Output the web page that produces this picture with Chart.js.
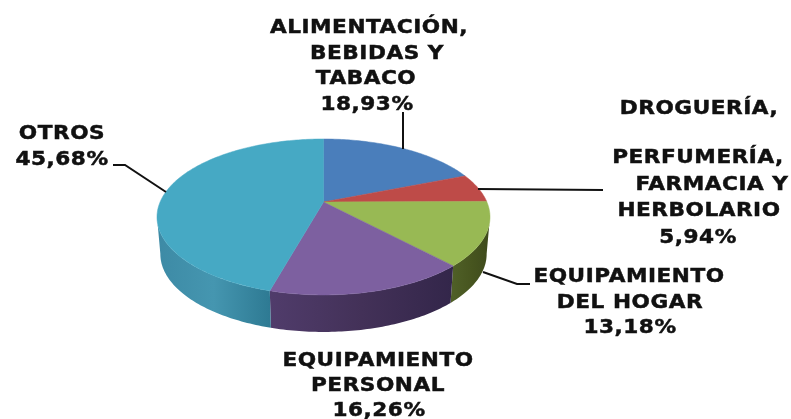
<!DOCTYPE html>
<html lang="es">
<head>
    <meta charset="UTF-8">
    <title>Distribución por sectores</title>
    <script src="https://cdn.jsdelivr.net/npm/chart.js"></script>
    <style>
        body { margin: 0; background: #fff; }
        canvas { display: block; }
    </style>
</head>
<body>
    <canvas id="pie" width="791" height="419"></canvas>

    <script>
        const categories = [
            "ALIMENTACIÓN, BEBIDAS Y TABACO",
            "DROGUERÍA, PERFUMERÍA, FARMACIA Y HERBOLARIO",
            "EQUIPAMIENTO DEL HOGAR",
            "EQUIPAMIENTO PERSONAL",
            "OTROS"
        ];
        const values = [18.93, 5.94, 13.18, 16.26, 45.68];
        const faceColors = ["#4a7ebb", "#be4b48", "#98b954", "#7d60a0", "#46a9c4"];
        const wallColors = [
            ["#3a6494", "#3a6494", "#3a6494"],
            ["#8f3836", "#8f3836", "#8f3836"],
            ["#4f5f27", "#47551f", "#3e4a1c"],
            ["#503c6b", "#433158", "#33264a"],
            ["#3d8aa5", "#4596b0", "#2e7a93"]
        ];

        // text lines of each label, the blank line in the second one is in the original
        const labelLines = [
            ["ALIMENTACIÓN,", "BEBIDAS Y", "TABACO"],
            ["DROGUERÍA,", "", "PERFUMERÍA,", "FARMACIA Y", "HERBOLARIO"],
            ["EQUIPAMIENTO", "DEL HOGAR"],
            ["EQUIPAMIENTO", "PERSONAL"],
            ["OTROS"]
        ];
        // centre x and baseline y of every line, the value line comes last
        const labelLayout = [
            [[369, 33], [377, 59], [366, 84], [367, 110]],
            [[699, 114], [699, 138], [698, 163], [712, 190], [699, 216], [698, 243]],
            [[629, 282], [630, 308], [630, 333]],
            [[378, 366], [378, 391], [379, 416]],
            [[62, 139], [62, 165]]
        ];
        const leaders = [
            [[403, 112], [403, 149]],
            [[478, 189], [603, 190]],
            [[483, 272], [517, 284], [530, 284]],
            [[113, 165], [125, 165], [166, 192]]
        ];

        // the disc is seen in perspective, so the apex is not the middle of the ellipse
        const apexX = 323.5, apexY = 202;
        const spreadX = 163.4, spreadY = 75.1, tilt = 0.192;
        const depth = 37, wallShrink = 0.98;
        const wallFrom = 101 * Math.PI / 180, wallTo = 259 * Math.PI / 180;

        function rim(angle, drop, shrink) {
            const t = angle + Math.PI / 2;
            const w = 1 + tilt * Math.cos(t);
            return [
                apexX + shrink * spreadX * Math.sin(t) / w,
                apexY + drop + spreadY * -Math.cos(t) / w
            ];
        }

        function traceRim(ctx, a0, a1, drop, shrink) {
            const steps = Math.max(2, Math.ceil(Math.abs(a1 - a0) * 60));
            for (let i = 0; i <= steps; i++) {
                const p = rim(a0 + (a1 - a0) * i / steps, drop, shrink);
                ctx.lineTo(p[0], p[1]);
            }
        }

        // top face of each slice, angles are the ones the library worked out
        Chart.ArcElement.prototype.draw = function (ctx) {
            ctx.save();
            ctx.fillStyle = this.options.backgroundColor;
            ctx.beginPath();
            ctx.moveTo(apexX, apexY);
            traceRim(ctx, this.startAngle, this.endAngle, 0, 1);
            ctx.closePath();
            ctx.fill();
            ctx.strokeStyle = this.options.backgroundColor;
            ctx.lineWidth = 0.5;
            ctx.stroke();
            ctx.restore();
        };

        const wallPlugin = {
            id: "wall",
            beforeDatasetsDraw(chart) {
                const ctx = chart.ctx;
                chart.getDatasetMeta(0).data.forEach((arc, i) => {
                    const a0 = Math.max(arc.startAngle, wallFrom - Math.PI / 2);
                    const a1 = Math.min(arc.endAngle, wallTo - Math.PI / 2);
                    if (a1 <= a0) return;
                    const left = rim(a1, 0, 1)[0], right = rim(a0, 0, 1)[0];
                    const g = ctx.createLinearGradient(left, 0, right, 0);
                    g.addColorStop(0, wallColors[i][0]);
                    g.addColorStop(0.5, wallColors[i][1]);
                    g.addColorStop(1, wallColors[i][2]);
                    ctx.save();
                    ctx.fillStyle = g;
                    ctx.beginPath();
                    traceRim(ctx, a0, a1, 0, 1);
                    traceRim(ctx, a1, a0, depth, wallShrink);
                    ctx.closePath();
                    ctx.fill();
                    ctx.restore();
                });
            }
        };

        const labelPlugin = {
            id: "labels",
            afterDatasetsDraw(chart) {
                const ctx = chart.ctx;
                ctx.save();
                ctx.strokeStyle = "#111";
                ctx.lineWidth = 2;
                leaders.forEach(pts => {
                    ctx.beginPath();
                    pts.forEach(p => ctx.lineTo(p[0], p[1]));
                    ctx.stroke();
                });
                ctx.fillStyle = "#111";
                ctx.lineWidth = 0.5;
                ctx.font = "bold 20px 'DejaVu Sans'";
                ctx.letterSpacing = "0.5px";
                ctx.textAlign = "center";
                labelLines.forEach((lines, i) => {
                    const value = values[i].toFixed(2).replace(".", ",") + "%";
                    lines.concat([value]).forEach((line, j) => {
                        if (!line) return;
                        // the lettering of the original is stretched sideways and heavy
                        ctx.save();
                        ctx.translate(labelLayout[i][j][0], labelLayout[i][j][1]);
                        ctx.scale(1.08, 1);
                        ctx.fillText(line, 0, 0);
                        ctx.strokeText(line, 0, 0);
                        ctx.restore();
                    });
                });
                ctx.restore();
            }
        };

        new Chart(document.getElementById("pie"), {
            type: "pie",
            data: {
                labels: categories,
                datasets: [{ data: values, backgroundColor: faceColors, borderWidth: 0 }]
            },
            options: {
                responsive: false,
                animation: false,
                plugins: { legend: { display: false }, tooltip: { enabled: false } }
            },
            plugins: [wallPlugin, labelPlugin]
        });
    </script>
</body>
</html>
